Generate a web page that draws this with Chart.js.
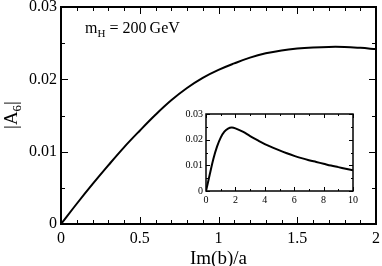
<!DOCTYPE html>
<html>
<head>
<meta charset="utf-8">
<script src="https://cdn.jsdelivr.net/npm/chart.js@4"></script>
<style>
  body { margin: 0; background: #fff; }
  #wrap { position: relative; width: 382px; height: 266px; }
  #main { position: absolute; left: 0; top: 0; }
  #inset { position: absolute; left: 170px; top: 104px; }
</style>
</head>
<body>
<div id="wrap">
  <canvas id="main" width="382" height="266"></canvas>
  <canvas id="inset" width="192" height="112"></canvas>
</div>
<script>
// main panel: |A6| against Im(b)/a
const mainX = [0, 0.1, 0.2, 0.3, 0.4, 0.5, 0.6, 0.7, 0.8, 0.9, 1.0,
  1.1, 1.2, 1.3, 1.4, 1.5, 1.6, 1.7, 1.8, 1.9, 2.0];
const mainY = [0, 0.0028, 0.0055, 0.0081, 0.0106, 0.0129, 0.0151, 0.0171, 0.0188, 0.0202, 0.0213,
  0.0222, 0.0230, 0.0236, 0.0240, 0.02425, 0.0244, 0.02448, 0.02447, 0.02435, 0.02418];

// inset: same quantity over a wider range
const insetX = [0, 0.25, 0.5, 0.75, 1.0, 1.25, 1.5, 1.75, 2.0, 2.5, 3.0, 3.5, 4.0, 4.5,
  5.0, 5.5, 6.0, 6.5, 7.0, 7.5, 8.0, 8.5, 9.0, 9.5, 10.0];
const insetY = [0, 0.0063, 0.0125, 0.0173, 0.0208, 0.0231, 0.0243, 0.0247, 0.0244, 0.0231, 0.0214,
  0.0198, 0.0183, 0.0170, 0.0158, 0.0147, 0.0137, 0.0128, 0.0120, 0.0113, 0.0106, 0.0099,
  0.0093, 0.0087, 0.0081];

// tick positions (major labelled, minor unlabelled)
const mainXMajor = [0, 0.5, 1, 1.5, 2];
const mainXMinor = [0.1, 0.2, 0.3, 0.4, 0.6, 0.7, 0.8, 0.9, 1.1, 1.2, 1.3, 1.4, 1.6, 1.7, 1.8, 1.9];
const mainYMajor = [0, 0.01, 0.02, 0.03];
const mainYMinor = [0.005, 0.015, 0.025];
const insetXMajor = [0, 2, 4, 6, 8, 10];
const insetXMinor = [1, 3, 5, 7, 9];
const insetYMajor = [0, 0.01, 0.02, 0.03];
const insetYMinor = [0.005, 0.015, 0.025];

const serif = "'Liberation Serif', 'DejaVu Serif', serif";

function toPoints(xs, ys) {
  return xs.map((x, i) => ({ x: x, y: ys[i] }));
}

function xLabel(v) {
  return String(v);
}

function yLabel(v) {
  return v === 0 ? "0" : v.toFixed(2);
}

// box round the plot area with inward ticks on all four sides
const frameTicks = {
  id: "frameTicks",
  afterDraw(chart, args, o) {
    const { ctx, chartArea: a, scales } = chart;
    const x = scales.x, y = scales.y;
    const L = Math.round(a.left), R = Math.round(a.right);
    const T = Math.round(a.top), B = Math.round(a.bottom);
    ctx.save();
    ctx.strokeStyle = "#000";
    ctx.lineWidth = o.tickWidth;
    ctx.beginPath();
    const tickX = (vals, len) => {
      vals.forEach((v) => {
        const px = Math.round(x.getPixelForValue(v)) + 0.5;
        ctx.moveTo(px, B); ctx.lineTo(px, B - len);
        ctx.moveTo(px, T); ctx.lineTo(px, T + len);
      });
    };
    const tickY = (vals, len) => {
      vals.forEach((v) => {
        const py = Math.round(y.getPixelForValue(v)) + 0.5;
        ctx.moveTo(L, py); ctx.lineTo(L + len, py);
        ctx.moveTo(R, py); ctx.lineTo(R - len, py);
      });
    };
    tickX(o.xMajor, o.major);
    tickX(o.xMinor, o.minor);
    tickY(o.yMajor, o.major);
    tickY(o.yMinor, o.minor);
    ctx.stroke();
    ctx.lineWidth = o.frameWidth;
    ctx.strokeRect(L, T, R - L, B - T);
    ctx.restore();
  }
};

// axis title with subscript and the m_H note
const labels = {
  id: "labels",
  afterDraw(chart) {
    const { ctx } = chart;
    ctx.save();
    ctx.fillStyle = "#000";
    ctx.textBaseline = "alphabetic";

    // |A6| rotated
    ctx.translate(17, 115);
    ctx.rotate(-Math.PI / 2);
    ctx.font = "19px " + serif;
    const w1 = ctx.measureText("|A").width;
    ctx.font = "13px " + serif;
    const w2 = ctx.measureText("6").width;
    ctx.font = "19px " + serif;
    const w3 = ctx.measureText("|").width;
    let sx = -(w1 + w2 + w3) / 2;
    ctx.fillText("|A", sx, 0);
    ctx.font = "13px " + serif;
    ctx.fillText("6", sx + w1, 4);
    ctx.font = "19px " + serif;
    ctx.fillText("|", sx + w1 + w2, 0);
    ctx.restore();

    // m_H = 200 GeV
    ctx.save();
    ctx.fillStyle = "#000";
    ctx.font = "16px " + serif;
    let tx = 85;
    ctx.fillText("m", tx, 33);
    tx += ctx.measureText("m").width;
    ctx.font = "11px " + serif;
    ctx.fillText("H", tx, 37);
    tx += ctx.measureText("H").width;
    ctx.font = "16px " + serif;
    ctx.fillText(" = 200\u2009GeV", tx, 33);
    ctx.restore();
  }
};

function fixedAxis(size, horizontal) {
  return (scale) => {
    if (horizontal) scale.height = size; else scale.width = size;
    scale.paddingTop = 0;
    scale.paddingBottom = 0;
    scale.paddingLeft = 0;
    scale.paddingRight = 0;
  };
}

function showMainChart() {
  const config = {
    type: "scatter",
    data: {
      datasets: [{
        data: toPoints(mainX, mainY),
        showLine: true,
        borderColor: "#000",
        borderWidth: 2,
        pointRadius: 0,
        tension: 0.4,
      }],
    },
    options: {
      responsive: false,
      animation: false,
      devicePixelRatio: 1,
      layout: { padding: { left: 0, top: 7, right: 6, bottom: 0 } },
      plugins: {
        legend: { display: false },
        tooltip: { enabled: false },
        frameTicks: {
          xMajor: mainXMajor, xMinor: mainXMinor,
          yMajor: mainYMajor, yMinor: mainYMinor,
          major: 7, minor: 4, tickWidth: 1, frameWidth: 2,
        },
      },
      scales: {
        x: {
          type: "linear", min: 0, max: 2,
          grid: { display: false, drawTicks: false },
          border: { display: false },
          afterBuildTicks: (s) => { s.ticks = mainXMajor.map((v) => ({ value: v })); },
          afterFit: fixedAxis(42, true),
          ticks: { color: "#000", padding: 5, maxRotation: 0, callback: xLabel, font: { family: serif, size: 16 } },
          title: {
            display: true, text: "Im(b)/a", color: "#000", padding: { top: 0, bottom: -4 },
            font: { family: serif, size: 19 },
          },
        },
        y: {
          type: "linear", min: 0, max: 0.03,
          grid: { display: false, drawTicks: false },
          border: { display: false },
          afterBuildTicks: (s) => { s.ticks = mainYMajor.map((v) => ({ value: v })); },
          afterFit: fixedAxis(61, false),
          ticks: { color: "#000", padding: 4, callback: yLabel, font: { family: serif, size: 16 } },
        },
      },
    },
    plugins: [frameTicks, labels],
  };
  return new Chart(document.getElementById("main"), config);
}

function showInsetChart() {
  const config = {
    type: "scatter",
    data: {
      datasets: [{
        data: toPoints(insetX, insetY),
        showLine: true,
        borderColor: "#000",
        borderWidth: 2,
        pointRadius: 0,
        tension: 0.4,
      }],
    },
    options: {
      responsive: false,
      animation: false,
      devicePixelRatio: 1,
      layout: { padding: { left: 0, top: 10, right: 9, bottom: 0 } },
      plugins: {
        legend: { display: false },
        tooltip: { enabled: false },
        frameTicks: {
          xMajor: insetXMajor, xMinor: insetXMinor,
          yMajor: insetYMajor, yMinor: insetYMinor,
          major: 4, minor: 2, tickWidth: 1, frameWidth: 1.5,
        },
      },
      scales: {
        x: {
          type: "linear", min: 0, max: 10,
          grid: { display: false, drawTicks: false },
          border: { display: false },
          afterBuildTicks: (s) => { s.ticks = insetXMajor.map((v) => ({ value: v })); },
          afterFit: fixedAxis(25, true),
          ticks: { color: "#000", padding: 3, maxRotation: 0, callback: xLabel, font: { family: serif, size: 10 } },
        },
        y: {
          type: "linear", min: 0, max: 0.03,
          grid: { display: false, drawTicks: false },
          border: { display: false },
          afterBuildTicks: (s) => { s.ticks = insetYMajor.map((v) => ({ value: v })); },
          afterFit: fixedAxis(36, false),
          ticks: { color: "#000", padding: 3, callback: yLabel, font: { family: serif, size: 10 } },
        },
      },
    },
    plugins: [frameTicks],
  };
  return new Chart(document.getElementById("inset"), config);
}

window.onload = () => {
  showMainChart();
  showInsetChart();
};
</script>
</body>
</html>
